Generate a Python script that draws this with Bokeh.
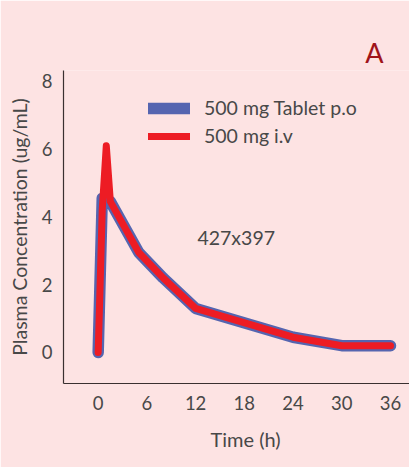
from bokeh.plotting import figure
from bokeh.models import Legend, LegendItem, Label, FixedTicker, Range1d, Title
from bokeh.embed import file_html
from bokeh.resources import INLINE

# Data
time_po = [0, 0.5, 1.5, 5, 8, 12, 24, 30, 36]
conc_po = [0, 4.55, 4.45, 2.95, 2.2, 1.3, 0.45, 0.2, 0.2]
time_iv = [0, 0.5, 1, 1.5, 5, 8, 12, 24, 30, 36]
conc_iv = [0, 4.2, 6.1, 4.45, 2.95, 2.2, 1.3, 0.45, 0.2, 0.2]
x_ticks = [0, 6, 12, 18, 24, 30, 36]
y_ticks = [0, 2, 4, 6, 8]
series_labels = ["500 mg Tablet p.o", "500 mg i.v"]

BG = "#fde3e3"
TXT = "#484848"
FONT = "Lato"

p = figure(width=409, height=467, output_backend="svg", toolbar_location=None,
           x_range=Range1d(-4.27, 38.34), y_range=Range1d(-0.915, 8.318),
           min_border_left=63, min_border_right=0, min_border_top=70, min_border_bottom=84)
p.background_fill_color = BG
p.border_fill_color = BG
p.outline_line_color = None
p.grid.visible = False

r_po = p.line(time_po, conc_po, line_color="#5565b0", line_width=11.5,
              line_cap="round", line_join="round")
r_iv = p.line(time_iv, conc_iv, line_color="#ed1c24", line_width=7,
              line_cap="round", line_join="round")

for ax in (p.xaxis[0], p.yaxis[0]):
    ax.major_tick_line_color = None
    ax.minor_tick_line_color = None
    ax.axis_line_color = "#3a3030"
    ax.axis_line_width = 1.2
    ax.major_label_text_font = FONT
    ax.major_label_text_font_size = "18.5px"
    ax.major_label_text_color = TXT
    ax.major_tick_out = 0
    ax.major_tick_in = 0

p.xaxis.ticker = FixedTicker(ticks=x_ticks)
p.yaxis.ticker = FixedTicker(ticks=y_ticks)
p.xaxis.major_label_standoff = 12
p.yaxis.major_label_standoff = 11
p.yaxis.axis_label = "Plasma Concentration (ug/mL)"
p.yaxis.axis_label_text_font = FONT
p.yaxis.axis_label_text_font_size = "19.5px"
p.yaxis.axis_label_text_font_style = "normal"
p.yaxis.axis_label_text_color = TXT
p.yaxis.axis_label_standoff = 8

p.add_layout(Title(text="Time (h)", align="left", offset=147, text_font=FONT,
                   text_font_size="20px", text_font_style="normal", text_color=TXT,
                   standoff=24), "below")
p.add_layout(Title(text="A", align="right", offset=26, text_font=FONT,
                   text_font_size="27px", text_font_style="normal", text_color="#a0141a",
                   standoff=4), "above")
p.add_layout(Label(x=17.0, y=3.4, text="427x397", text_font=FONT, text_font_size="19.5px",
                   text_color=TXT, text_align="center", text_baseline="middle"))

legend = Legend(items=[LegendItem(label=series_labels[0], renderers=[r_po]),
                       LegendItem(label=series_labels[1], renderers=[r_iv])],
                location=(85, 236), padding=0, spacing=5, glyph_width=42, glyph_height=20,
                label_height=20, label_standoff=14, background_fill_alpha=0,
                border_line_alpha=0, label_text_font=FONT, label_text_font_size="19.5px",
                label_text_color=TXT)
p.add_layout(legend)

open("out.html", "w").write(file_html(p, INLINE))
